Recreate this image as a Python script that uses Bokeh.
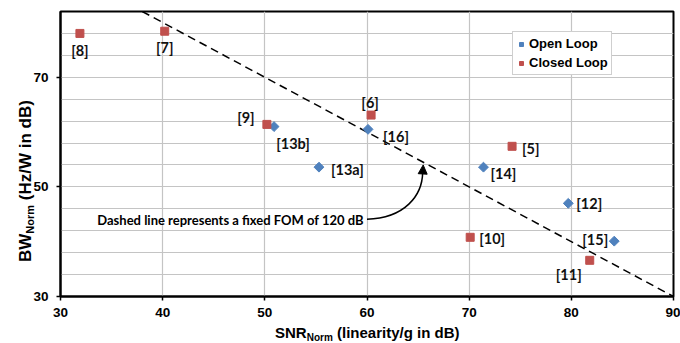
from bokeh.plotting import figure
from bokeh.models import (ColumnDataSource, Label, Legend, LegendItem, FixedTicker,
                          Arrow, NormalHead, Range1d, Div)
from bokeh.layouts import row, column
from bokeh.core.properties import value
from bokeh.embed import file_html
from bokeh.resources import INLINE
import math

# ---------------- data ----------------
open_refs = ["[13b]", "[16]", "[13a]", "[14]", "[12]", "[15]"]
open_snr = [50.9, 60.1, 55.3, 71.4, 79.7, 84.2]
open_bw = [61.0, 60.5, 53.6, 53.6, 47.0, 40.1]

closed_refs = ["[8]", "[7]", "[9]", "[6]", "[5]", "[10]", "[11]"]
closed_snr = [31.9, 40.2, 50.2, 60.4, 74.2, 70.1, 81.8]
closed_bw = [78.0, 78.4, 61.4, 63.1, 57.4, 40.8, 36.6]

fom_db = 120
fom_snr = [38, 90]
fom_bw = [fom_db - s for s in fom_snr]

x_ticks = [30, 40, 50, 60, 70, 80, 90]
y_ticks = [30, 50, 70]
y_grid = [30, 34, 38, 42, 46, 50, 54, 58, 62, 66, 70, 74, 78, 82]

note_text = "Dashed line represents a fixed FOM of 120 dB"
x_title = ("SNR", "Norm", " (linearity/g in dB)")
y_title = ("BW", "Norm", " (Hz/W in dB)")

# ---------------- styles ----------------
BLUE = "#4F81BD"
RED = "#C0504D"
GRID = "#c4c4c4"
LABEL_FONT = "Lato"
AXIS_FONT = "Liberation Sans"

label_style = {
    "[8]": (0, 17, "center"), "[7]": (0, 16, "center"), "[9]": (-21, -7, "center"),
    "[6]": (-1, -13, "center"), "[5]": (10, 2, "left"), "[10]": (9, 1, "left"),
    "[11]": (-21, 14, "center"),
    "[13b]": (19, 17, "center"), "[16]": (15, 7, "left"), "[13a]": (12, 2, "left"),
    "[14]": (7, 6, "left"), "[12]": (8, 0, "left"), "[15]": (-19, -2, "center"),
}

YDIV_W = 29
P_W, P_H = 680 - YDIV_W, 325

p = figure(width=P_W, height=P_H, output_backend="svg", toolbar_location=None,
           x_range=Range1d(30, 90), y_range=Range1d(30, 82),
           min_border_left=60 - YDIV_W, min_border_right=7, min_border_top=11,
           min_border_bottom=P_H - 296,
           background_fill_color="white", border_fill_color="white")

p.outline_line_color = "black"
p.outline_line_width = 2

for ax in (p.xaxis[0], p.yaxis[0]):
    ax.axis_line_width = 2
    ax.axis_line_color = "black"
    ax.major_tick_line_color = "black"
    ax.major_tick_line_width = 1.5
    ax.major_tick_in = 0
    ax.major_tick_out = 4
    ax.minor_tick_line_color = None
    ax.major_label_text_font = AXIS_FONT
    ax.major_label_text_font_style = "bold"
    ax.major_label_text_font_size = "13.5px"
    ax.major_label_text_color = "black"
p.yaxis.major_label_standoff = 8
p.xaxis.major_label_standoff = 7
p.xaxis.ticker = FixedTicker(ticks=x_ticks)
p.yaxis.ticker = FixedTicker(ticks=y_ticks)

p.xgrid.ticker = FixedTicker(ticks=x_ticks)
p.ygrid.ticker = FixedTicker(ticks=y_grid)
p.xgrid.grid_line_color = GRID
p.ygrid.grid_line_color = GRID
p.xgrid.grid_line_width = 1.2
p.ygrid.grid_line_width = 1.2

# FOM line
p.line(fom_snr, fom_bw, line_color="black", line_width=1.5, line_dash="8 5")

def make_src(xs, ys, refs):
    return ColumnDataSource(dict(x=xs, y=ys, name=refs,
                                 dx=[label_style[r][0] for r in refs],
                                 dy=[label_style[r][1] for r in refs],
                                 al=[label_style[r][2] for r in refs]))

open_src = make_src(open_snr, open_bw, open_refs)
closed_src = make_src(closed_snr, closed_bw, closed_refs)

r_open = p.scatter("x", "y", source=open_src, marker="square", angle=math.pi / 4,
                   size=7, fill_color=BLUE, line_color=BLUE)
r_closed = p.scatter("x", "y", source=closed_src, marker="square",
                     size=8, fill_color=RED, line_color=RED)

for src in (open_src, closed_src):
    p.text("x", "y", text="name", source=src, x_offset="dx", y_offset="dy",
           text_align="al", text_baseline="middle",
           text_font=value(LABEL_FONT), text_font_style="bold",
           text_font_size="14.5px", text_color="#111111")

# annotation text + curved arrow
p.add_layout(Label(x=33.6, y=43.9, text=note_text, text_font=LABEL_FONT,
                   text_font_style="bold", text_font_size="13px",
                   text_baseline="middle", text_color="black"))
p.bezier(x0=[60.0], y0=[44.1], x1=[65.45], y1=[52.6],
         cx0=[63.7], cy0=[44.3], cx1=[65.4], cy1=[48.4],
         line_color="black", line_width=1.5)
p.add_layout(Arrow(x_start=65.45, y_start=52.4, x_end=65.5, y_end=54.0,
                   line_color="black", line_width=1.5,
                   end=NormalHead(size=9, fill_color="black", line_color="black")))

legend = Legend(items=[LegendItem(label="Open Loop", renderers=[r_open]),
                       LegendItem(label="Closed Loop", renderers=[r_closed])],
                location=(452, 221), label_text_font=AXIS_FONT,
                label_text_font_style="bold", label_text_font_size="13px",
                label_text_color="black", glyph_width=10, glyph_height=16,
                label_standoff=3, spacing=2, padding=3, margin=0,
                label_height=17, border_line_color="#a0a0a0", border_line_width=1.5,
                background_fill_color="white", background_fill_alpha=1)
p.add_layout(legend)

# axis titles with subscripts (HTML)
font_css = ("font-family:'Liberation Sans',Arial,sans-serif; font-weight:bold; "
            "color:black; white-space:nowrap;")
sub_css = "font-size:10px; vertical-align:-3px; line-height:0;"

x_html = (f'<div style="{font_css} font-size:15px; line-height:15px; '
          f'margin-left:{275 - YDIV_W}px; padding-top:0px;">'
          f'{x_title[0]}<span style="{sub_css}">{x_title[1]}</span>{x_title[2]}</div>')
y_html = (f'<div style="{font_css} font-size:17px; line-height:17px; width:300px; '
          f'transform: translate(17px, 262px) rotate(-90deg); transform-origin:0 0;">'
          f'{y_title[0]}<span style="{sub_css} font-size:11px;">{y_title[1]}</span>{y_title[2]}</div>')

xdiv = Div(text=x_html, width=P_W, height=343 - P_H, margin=0)
ydiv = Div(text=y_html, width=YDIV_W, height=343, margin=0,
           styles={"overflow": "visible", "z-index": "2"})

layout = row(ydiv, column(p, xdiv, spacing=0), spacing=0)

open("out.html", "w").write(file_html(layout, INLINE))
